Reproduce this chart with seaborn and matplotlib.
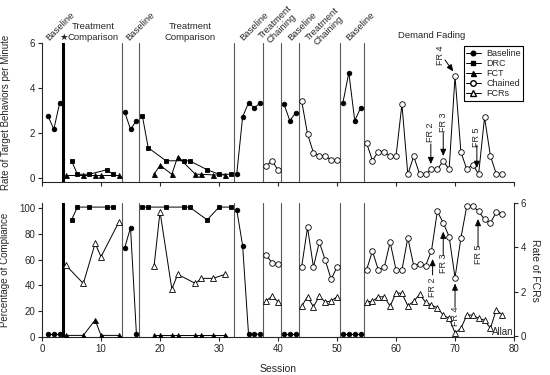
import numpy as np
import pandas as pd
import seaborn as sns
import matplotlib.pyplot as plt
from matplotlib.lines import Line2D

sns.set_style("ticks")
plt.rcParams["font.family"] = ["Liberation Sans", "DejaVu Sans"]
plt.rcParams["font.size"] = 7

# Phase change lines (between sessions); the first one is the thick line
phase_lines = [3.5, 13.5, 16.5, 32.5, 37.5, 40.5, 43.5, 50.5, 54.5]

# Baseline (filled circles) - one list per baseline phase
bl_sessions = [[1, 2, 3], [14, 15, 16], [33, 34, 35, 36, 37], [41, 42, 43], [51, 52, 53, 54]]
bl_rate = [[2.75, 2.15, 3.33], [2.93, 2.15, 2.53], [0.15, 2.7, 3.33, 3.1, 3.33],
           [3.28, 2.53, 2.89], [3.33, 4.67, 2.53, 3.1]]
bl_comp = [[2, 2, 2], [69, 85, 2], [99, 71, 2, 2, 2], [2, 2, 2], [2, 2, 2, 2]]

# DRC (filled squares)
drc_sessions = [[5, 6, 8, 11, 12], [17, 18, 21, 24, 25, 28, 30, 32]]
drc_rate = [[0.75, 0.15, 0.15, 0.35, 0.15], [2.75, 1.33, 0.75, 0.75, 0.75, 0.35, 0.15, 0.15]]
drc_comp = [[91, 101, 101, 101, 101], [101, 101, 101, 101, 101, 91, 101, 101]]

# FCT (filled triangles) and FCRs during FCT (open triangles)
fct_sessions = [[4, 7, 9, 10, 13], [19, 20, 22, 23, 26, 27, 29, 31]]
fct_rate = [[0.1, 0.1, 0.1, 0.1, 0.1], [0.15, 0.55, 0.15, 0.93, 0.15, 0.15, 0.12, 0.12]]
fct_comp = [[1, 1, 13, 1, 1], [1.5, 1.5, 1.5, 1.5, 1.5, 1.5, 1.5, 1.5]]
fct_fcrs = [[3.2, 2.37, 4.17, 3.57, 5.12], [3.17, 5.6, 2.12, 2.78, 2.37, 2.6, 2.6, 2.78]]

# Chained (open circles) and FCRs during chaining / demand fading
ch_sessions = [[38, 39, 40], [44, 45, 46, 47, 48, 49, 50], list(range(55, 79))]
ch_rate = [[0.53, 0.74, 0.34],
           [3.42, 1.94, 1.11, 0.98, 0.98, 0.77, 0.77],
           [1.54, 0.76, 1.16, 1.16, 0.95, 0.95, 3.26, 0.15, 0.95, 0.15, 0.15, 0.37,
            0.37, 0.74, 0.37, 4.5, 1.13, 0.37, 0.58, 0.16, 2.68, 0.96, 0.16, 0.16]]
ch_comp = [[63.4, 57.5, 56.6],
           [54.3, 85.2, 54.3, 73.7, 59.7, 44.7, 54.3],
           [52, 66.7, 52, 54, 73.7, 52, 52, 77, 55.3, 56.4, 55.3, 66.7,
            97.6, 88.8, 77.9, 46, 77, 102, 102, 97.6, 91.4, 88.8, 96.9, 95.3]]
ch_fcrs = [[1.59, 1.8, 1.55],
           [1.35, 1.77, 1.32, 1.8, 1.53, 1.59, 1.77],
           [1.55, 1.57, 1.77, 1.77, 1.35, 1.95, 1.92, 1.37, 1.57, 1.88, 1.53, 1.4,
            1.28, 0.95, 0.8, 0.15, 0.35, 0.95, 0.95, 0.8, 0.72, 0.35, 1.2, 0.95]]

# FR step annotations: (label, session, text y, arrow start y, arrow end y)
fr_top = [("FR 2", 65.9, 2.0, 1.5, 0.6), ("FR 3", 68.0, 2.48, 2.0, 0.96),
          ("FR 5", 73.7, 1.8, 1.45, 0.43)]
fr_bot = [("FR 2", 66.2, 2.2, 2.75, 3.47), ("FR 3", 68.0, 3.27, 3.62, 4.7),
          ("FR 4", 70.0, 0.9, 1.3, 2.37), ("FR 5", 73.9, 3.7, 4.0, 5.27)]


def draw(ax, sessions, values, marker, filled, ms):
    df = pd.DataFrame({
        "session": [s for seg in sessions for s in seg],
        "value": [v for seg in values for v in seg],
        "phase": [i for i, seg in enumerate(sessions) for _ in seg],
    })
    sns.lineplot(data=df, x="session", y="value", units="phase", estimator=None,
                 color="black", lw=0.7, marker=marker, markersize=ms,
                 markerfacecolor="black" if filled else "white",
                 markeredgecolor="black", markeredgewidth=0.6,
                 legend=False, ax=ax, zorder=3)


fig = plt.figure(figsize=(5.5, 3.75), dpi=100)
ax_top = fig.add_axes([0.0764, 0.5155, 0.8582, 0.3707])
ax_bot = fig.add_axes([0.0764, 0.1005, 0.8582, 0.3589])
ax_fcr = ax_bot.twinx()

# top panel: rate of target behavior
draw(ax_top, bl_sessions, bl_rate, "o", True, 3.3)
draw(ax_top, drc_sessions, drc_rate, "s", True, 3.2)
draw(ax_top, fct_sessions, fct_rate, "^", True, 3.6)
draw(ax_top, ch_sessions, ch_rate, "o", False, 4.0)

# bottom panel: compliance and FCRs
draw(ax_bot, bl_sessions, bl_comp, "o", True, 3.3)
draw(ax_bot, drc_sessions, drc_comp, "s", True, 3.2)
draw(ax_bot, fct_sessions, fct_comp, "^", True, 3.6)
draw(ax_bot, ch_sessions, ch_comp, "o", False, 4.0)
draw(ax_fcr, fct_sessions, fct_fcrs, "^", False, 4.0)
draw(ax_fcr, ch_sessions, ch_fcrs, "^", False, 4.0)

for ax in (ax_top, ax_bot):
    for i, x in enumerate(phase_lines):
        if i == 0:
            ax.axvline(x, color="black", lw=2.2, zorder=2)
        else:
            ax.axvline(x, color="0.35", lw=0.8, zorder=2)
    ax.set_xlim(0, 80)
    ax.set_xticks(range(0, 81, 10))
    ax.spines["top"].set_visible(False)
    ax.spines["right"].set_visible(False)
    ax.tick_params(length=3, width=0.8, pad=2, labelsize=7)
    for sp in ax.spines.values():
        sp.set_linewidth(0.8)

ax_top.set_ylim(-0.18, 6)
ax_top.set_yticks([0, 2, 4, 6])
ax_top.set_xticklabels([])
ax_top.set_xlabel("")
ax_top.set_ylabel("Rate of Target Behaviors per Minute", fontsize=7)
ax_top.yaxis.set_label_coords(-0.066, 0.5)

ax_bot.set_ylim(-0.5, 104.4)
ax_bot.set_yticks(range(0, 101, 20))
ax_bot.set_xlabel("Session", fontsize=7.5)
ax_bot.xaxis.set_label_coords(0.5, -0.2)
ax_bot.set_ylabel("Percentage of Compliance", fontsize=7)
ax_bot.yaxis.set_label_coords(-0.068, 0.5)

ax_fcr.set_ylim(-0.05, 6.0)
ax_fcr.set_yticks([0, 2, 4, 6])
for side in ("top", "left", "bottom"):
    ax_fcr.spines[side].set_visible(False)
ax_fcr.spines["right"].set_linewidth(0.8)
ax_fcr.tick_params(length=3, width=0.8, pad=2, labelsize=7)
ax_fcr.set_ylabel("Rate of FCRs", fontsize=7.5, rotation=-90)
ax_fcr.yaxis.set_label_coords(1.055, 0.5)

# FR annotations
arrow = dict(arrowstyle="-|>,head_length=0.5,head_width=0.22", color="black",
             lw=0.7, mutation_scale=8, shrinkA=0, shrinkB=0)
for label, s, ty, y0, y1 in fr_top:
    ax_top.text(s, ty, label, rotation=90, ha="center", va="center", fontsize=6.5)
    ax_top.annotate("", xy=(s, y1), xytext=(s, y0), arrowprops=arrow)
ax_top.text(67.5, 5.45, "FR 4", rotation=90, ha="center", va="center", fontsize=6.5)
ax_top.annotate("", xy=(69.7, 4.72), xytext=(68.3, 5.23), arrowprops=arrow)
for label, s, ty, y0, y1 in fr_bot:
    ax_fcr.text(s, ty, label, rotation=90, ha="center", va="center", fontsize=6.5)
    ax_fcr.annotate("", xy=(s, y1), xytext=(s, y0), arrowprops=arrow)
ax_fcr.text(76.2, 0.19, "Allan", ha="left", va="center", fontsize=7)

# legend
handles = [
    Line2D([0], [0], color="black", lw=0.7, marker="o", ms=3.3, mfc="black", mec="black"),
    Line2D([0], [0], color="black", lw=0.7, marker="s", ms=3.2, mfc="black", mec="black"),
    Line2D([0], [0], color="black", lw=0.7, marker="^", ms=3.6, mfc="black", mec="black"),
    Line2D([0], [0], color="black", lw=0.7, marker="o", ms=4.0, mfc="white", mec="black"),
    Line2D([0], [0], color="black", lw=0.7, marker="^", ms=4.0, mfc="white", mec="black"),
]
leg = ax_top.legend(handles, ["Baseline", "DRC", "FCT", "Chained", "FCRs"],
                    loc="upper right", bbox_to_anchor=(1.02, 0.975), fontsize=6.5,
                    frameon=True, fancybox=False, framealpha=1, edgecolor="black",
                    handlelength=1.6, handletextpad=0.6, borderpad=0.3,
                    labelspacing=0.12, borderaxespad=0)
leg.get_frame().set_linewidth(0.8)

# phase labels above the top panel (pixel positions of a 550x375 figure)
def ftext(px, py, s, **kw):
    fig.text(px / 550, 1 - py / 375, s, ha="center", va="center", fontsize=6.8, **kw)

for px in (60.3, 140.3, 254, 302.5, 360):
    ftext(px, 26.3, "Baseline", rotation=45, rotation_mode="anchor")
for px, py in ((278.5, 25), (325, 27.5)):
    ftext(px, py, "Treatment\nChaining", rotation=45, rotation_mode="anchor",
          linespacing=1.0)
ftext(93, 32, "Treatment\nComparison", linespacing=1.15)
ftext(190, 32, "Treatment\nComparison", linespacing=1.15)
ftext(63.3, 37.5, "★")
ftext(432, 35, "Demand Fading")

plt.savefig("out.png", dpi=100)
